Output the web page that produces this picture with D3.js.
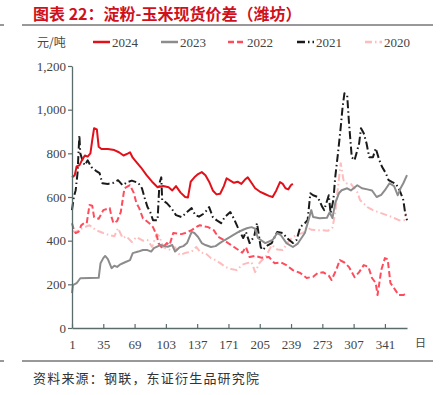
<!DOCTYPE html>
<html>
<head>
<meta charset="utf-8">
<script src="https://cdn.jsdelivr.net/npm/d3@7"></script>
<style>
  body { margin: 0; background: #fff; }
  svg { display: block; }
</style>
</head>
<body>
<div id="container"></div>
<script>
/* DATA */
const years = ["2024", "2023", "2022", "2021", "2020"]
const xTicks = [1, 35, 69, 103, 137, 171, 205, 239, 273, 307, 341]
const yTicks = [0, 200, 400, 600, 800, 1000, 1200]

// [day, 元/吨]
const s2024 = [[1,690],[4,700],[6,740],[9,745],[12,770],[15,790],[18,785],[21,800],[23,860],[25,915],[28,910],[30,830],[33,820],[40,820],[47,815],[52,805],[57,790],[62,800],[64,805],[67,780],[71,760],[76,735],[82,700],[88,670],[94,645],[100,650],[106,645],[110,630],[114,650],[119,620],[124,600],[127,598],[130,670],[134,690],[138,705],[142,714],[146,700],[150,670],[154,630],[158,612],[162,615],[166,650],[169,686],[173,675],[177,665],[181,670],[185,660],[189,680],[192,690],[196,665],[200,640],[205,625],[210,615],[215,605],[219,600],[223,630],[227,668],[230,660],[233,640],[236,635],[239,655],[241,660]]

const s2023 = [[1,160],[2,196],[6,205],[10,228],[30,230],[32,297],[35,320],[37,330],[40,315],[44,274],[47,285],[50,280],[53,290],[58,300],[64,311],[67,343],[73,350],[78,357],[83,357],[87,350],[90,366],[97,380],[105,372],[110,380],[113,350],[118,370],[122,375],[126,389],[131,440],[134,435],[138,417],[142,389],[146,380],[152,371],[157,375],[162,390],[167,403],[172,415],[176,425],[182,440],[187,450],[191,457],[196,462],[200,455],[203,412],[211,389],[219,403],[224,435],[228,425],[234,389],[241,371],[246,385],[254,435],[258,494],[261,540],[263,508],[270,503],[278,505],[281,530],[284,503],[287,572],[291,617],[294,631],[300,640],[304,630],[311,654],[316,640],[322,635],[327,630],[332,600],[337,610],[341,631],[346,663],[351,650],[355,608],[358,640],[361,663],[365,700]]

const s2022 = [[1,480],[3,450],[5,435],[8,440],[11,470],[14,480],[17,480],[20,563],[23,560],[25,508],[30,500],[35,540],[42,549],[44,508],[46,480],[50,490],[54,531],[58,640],[64,654],[68,620],[71,572],[74,549],[78,503],[85,480],[89,462],[93,425],[95,389],[99,366],[104,389],[107,380],[111,435],[120,430],[124,435],[131,448],[137,465],[140,471],[145,465],[149,462],[155,448],[160,417],[166,403],[172,385],[177,371],[182,357],[186,345],[190,371],[194,325],[200,330],[207,322],[215,325],[221,297],[228,300],[234,288],[241,265],[249,252],[256,229],[263,235],[268,252],[274,255],[280,240],[283,220],[288,265],[292,311],[297,300],[302,279],[308,233],[313,256],[318,288],[323,280],[327,229],[331,206],[333,151],[337,265],[341,320],[344,315],[347,206],[350,188],[356,151],[361,151],[365,160]]

const s2021 = [[1,540],[3,600],[5,631],[7,709],[9,883],[10,800],[13,760],[15,746],[18,768],[22,737],[27,720],[31,709],[34,663],[40,660],[46,665],[51,677],[56,654],[61,668],[66,675],[73,665],[77,640],[80,595],[83,554],[86,531],[89,494],[94,494],[96,663],[98,690],[99,586],[104,572],[109,549],[114,517],[120,508],[126,531],[131,549],[135,517],[139,510],[145,526],[150,554],[154,508],[158,494],[163,480],[167,508],[173,531],[177,500],[181,462],[187,412],[190,440],[194,389],[199,420],[202,480],[206,371],[208,357],[214,380],[218,389],[224,440],[230,435],[235,410],[241,389],[245,403],[249,462],[254,480],[257,494],[260,617],[263,608],[268,600],[273,554],[275,540],[280,608],[282,526],[285,586],[287,690],[290,800],[293,920],[295,1011],[297,1075],[300,1066],[302,938],[305,782],[308,768],[313,846],[315,915],[318,892],[321,846],[324,782],[328,782],[331,823],[335,768],[338,737],[342,709],[345,677],[349,668],[353,660],[357,631],[361,586],[363,526],[365,494]]

const s2020 = [[1,445],[5,440],[12,457],[20,471],[27,448],[35,435],[42,425],[47,420],[51,457],[56,412],[60,420],[66,394],[71,417],[78,400],[83,403],[88,371],[93,430],[96,420],[100,371],[108,357],[113,370],[118,334],[125,345],[131,350],[136,371],[141,345],[146,343],[152,320],[157,311],[162,297],[168,279],[174,270],[180,265],[186,290],[191,297],[196,302],[200,256],[205,300],[212,330],[218,380],[224,360],[230,357],[236,395],[241,417],[247,430],[252,435],[256,462],[261,450],[267,448],[273,448],[279,445],[284,460],[287,526],[290,645],[293,755],[296,677],[299,663],[304,660],[311,622],[314,586],[322,554],[328,540],[334,530],[343,517],[349,508],[356,494],[362,494],[364,526]]

const seriesData = [s2024, s2023, s2022, s2021, s2020]

/* STYLES */
const colors = ["#e3101a", "#8c8c8c", "#ff4b5c", "#1a1a1a", "#ffbcbc"]
const dashes = [null, null, "6,3", "8,3,1.5,3", "7,3,1.5,3"]
const serif = "'Liberation Serif', 'Times New Roman', serif"
const cjk = "'Noto Sans CJK SC', sans-serif"
const axisColor = "#5a6b6b"

const width = 443, height = 395

const svg = d3.select("#container")
  .append("svg")
  .attr("width", width)
  .attr("height", height)

// SCALES
const xScale = d3.scaleLinear().domain([1, 365]).range([72, 407])
const yScale = d3.scaleLinear().domain([0, 1200]).range([328, 66])

// TITLE + RULES
svg.append("text")
  .attr("x", 33).attr("y", 20)
  .attr("fill", "#d0101b")
  .attr("font-family", cjk)
  .attr("font-weight", "bold")
  .attr("font-size", 16)
  .text("图表 22：淀粉-玉米现货价差（潍坊）")

const rules = [25, 361]
rules.forEach(y => {
  svg.append("line").attr("x1", 22).attr("x2", 433).attr("y1", y).attr("y2", y)
    .attr("stroke", "#333").attr("stroke-width", 1)
  svg.append("line").attr("x1", 0).attr("x2", 4).attr("y1", y).attr("y2", y)
    .attr("stroke", "#333").attr("stroke-width", 1)
})

svg.append("text")
  .attr("x", 33).attr("y", 383)
  .attr("fill", "#333")
  .attr("font-family", cjk)
  .attr("font-size", 13)
  .attr("letter-spacing", 1.2)
  .text("资料来源：钢联，东证衍生品研究院")

// LEGEND
svg.append("text")
  .attr("x", 37).attr("y", 47)
  .attr("fill", "#444")
  .attr("font-family", cjk)
  .attr("font-size", 12)
  .text("元/吨")

const legendX = [93, 161, 228, 297, 365]
const legend = svg.append("g").attr("class", "legend")
years.forEach((yr, i) => {
  legend.append("line")
    .attr("x1", legendX[i]).attr("x2", legendX[i] + 17)
    .attr("y1", 42).attr("y2", 42)
    .attr("stroke", colors[i])
    .attr("stroke-width", 2.5)
    .attr("stroke-dasharray", dashes[i])
  legend.append("text")
    .attr("x", legendX[i] + 19).attr("y", 46.5)
    .attr("fill", "#444")
    .attr("font-family", serif)
    .attr("font-size", 13)
    .text(yr)
})

// LINES (draw older years underneath)
const lineGen = d3.line()
  .x(d => xScale(d[0]))
  .y(d => yScale(d[1]))

const order = [4, 3, 2, 1, 0]
svg.selectAll(".series")
  .data(order)
  .join("path")
  .attr("class", "series")
  .attr("fill", "none")
  .attr("stroke", i => colors[i])
  .attr("stroke-width", 2)
  .attr("stroke-dasharray", i => dashes[i])
  .attr("stroke-linejoin", "round")
  .attr("d", i => lineGen(seriesData[i]))

// AXES
const xAxis = d3.axisBottom(xScale)
  .tickValues(xTicks)
  .tickSizeInner(-4)
  .tickSizeOuter(0)
  .tickPadding(12)

const gx = svg.append("g")
  .attr("transform", `translate(0, ${yScale(0)})`)
  .call(xAxis)

const yAxis = d3.axisLeft(yScale)
  .tickValues(yTicks)
  .tickFormat(d3.format(","))
  .tickSizeInner(4)
  .tickSizeOuter(0)
  .tickPadding(2)

const gy = svg.append("g")
  .attr("transform", `translate(${xScale(1)}, 0)`)
  .call(yAxis)

;[gx, gy].forEach(g => {
  g.select(".domain").attr("stroke", axisColor).attr("stroke-width", 1.3)
  g.selectAll(".tick line").attr("stroke", axisColor).attr("stroke-width", 1.2)
  g.selectAll(".tick text")
    .attr("fill", "#444")
    .attr("font-family", serif)
    .attr("font-size", 13)
})

svg.append("text")
  .attr("x", 415).attr("y", 347)
  .attr("fill", "#444")
  .attr("font-family", cjk)
  .attr("font-size", 11)
  .text("日")
</script>
</body>
</html>
